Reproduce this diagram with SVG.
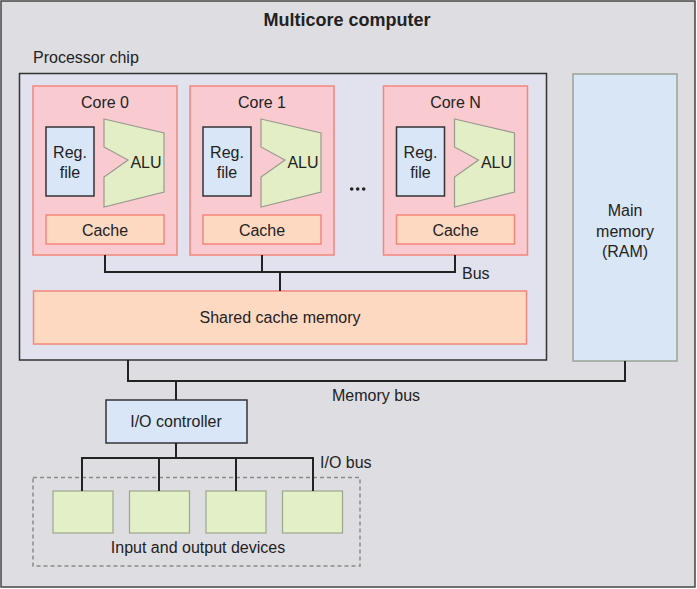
<svg xmlns="http://www.w3.org/2000/svg" width="697" height="589" viewBox="0 0 697 589">
<defs>
<style>
text{font-family:"Liberation Sans",Arial,sans-serif;font-size:16px;fill:#222;}
.title{font-weight:bold;font-size:18px;}
.mid{text-anchor:middle;}
.core{fill:#f9cbd0;stroke:#f3877b;stroke-width:1.5;}
.cache{fill:#fed9c2;stroke:#f3877b;stroke-width:1.5;}
.reg{fill:#d8e6f7;stroke:#333;stroke-width:1.5;}
.alu{fill:#e3edc6;stroke:#999a8e;stroke-width:1.2;}
.dev{fill:#e3efc6;stroke:#9da58f;stroke-width:1.2;}
.wire{fill:none;stroke:#222;stroke-width:2;}
</style>
</defs>
<rect x="1" y="1" width="694" height="586" fill="#dedde2" stroke="#444" stroke-width="1.5"/>
<text class="title mid" x="347" y="26">Multicore computer</text>

<g id="chip">
<rect x="19.5" y="73.5" width="527" height="286.5" fill="#e2e2ee" stroke="#333" stroke-width="1.5"/>
<text x="33" y="63">Processor chip</text>
</g>

<g id="core0">
<rect class="core" x="33" y="86" width="144" height="169"/>
<text class="mid" x="105" y="108">Core 0</text>
<rect class="reg" x="46" y="127" width="48" height="69"/>
<text class="mid" x="70" y="158">Reg.</text>
<text class="mid" x="70" y="178">file</text>
<polygon class="alu" points="104,119 164,133 164,192 104,207 104,177 128,160 104,147"/>
<text class="mid" x="146" y="168">ALU</text>
<rect class="cache" x="46" y="215" width="118" height="29"/>
<text class="mid" x="105" y="236">Cache</text>
</g>

<g id="core1">
<rect class="core" x="190" y="86" width="144" height="169"/>
<text class="mid" x="262" y="108">Core 1</text>
<rect class="reg" x="203" y="127" width="48" height="69"/>
<text class="mid" x="227" y="158">Reg.</text>
<text class="mid" x="227" y="178">file</text>
<polygon class="alu" points="261,119 321,133 321,192 261,207 261,177 285,160 261,147"/>
<text class="mid" x="303" y="168">ALU</text>
<rect class="cache" x="203" y="215" width="118" height="29"/>
<text class="mid" x="262" y="236">Cache</text>
</g>

<g id="dots">
<circle cx="351.7" cy="189" r="1.8" fill="#222"/>
<circle cx="357.7" cy="189" r="1.8" fill="#222"/>
<circle cx="363.7" cy="189" r="1.8" fill="#222"/>
</g>

<g id="coreN">
<rect class="core" x="383.5" y="86" width="144" height="169"/>
<text class="mid" x="455.5" y="108">Core N</text>
<rect class="reg" x="396.5" y="127" width="48" height="69"/>
<text class="mid" x="420.5" y="158">Reg.</text>
<text class="mid" x="420.5" y="178">file</text>
<polygon class="alu" points="454.5,119 514.5,133 514.5,192 454.5,207 454.5,177 478.5,160 454.5,147"/>
<text class="mid" x="496.5" y="168">ALU</text>
<rect class="cache" x="396.5" y="215" width="118" height="29"/>
<text class="mid" x="455.5" y="236">Cache</text>
</g>

<g id="shared-cache">
<rect class="cache" x="33.5" y="291" width="493" height="53"/>
<text class="mid" x="280" y="323">Shared cache memory</text>
</g>

<g id="main-memory">
<rect x="573" y="74" width="104" height="287" fill="#d9e6f5" stroke="#9aa393" stroke-width="1.5"/>
<text class="mid" x="625" y="216">Main</text>
<text class="mid" x="625" y="237">memory</text>
<text class="mid" x="625" y="257">(RAM)</text>
</g>

<g id="io-controller">
<rect class="reg" x="106" y="400" width="141" height="43"/>
<text class="mid" x="176" y="427">I/O controller</text>
</g>

<g id="devices">
<rect x="33" y="477.5" width="327" height="88.5" fill="none" stroke="#8a8a86" stroke-width="1.5" stroke-dasharray="4 3"/>
<rect class="dev" x="53" y="491" width="60" height="42"/>
<rect class="dev" x="129.5" y="491" width="60" height="42"/>
<rect class="dev" x="206" y="491" width="60" height="42"/>
<rect class="dev" x="282.5" y="491" width="60" height="42"/>
<text class="mid" x="198" y="553">Input and output devices</text>
</g>

<g id="connectors">
<path class="wire" d="M105,255 V272 H455 V255 M262,255 V272 M280,272 V291"/>
<path class="wire" d="M128,360 V381 H625 V361 M176,381 V400"/>
<path class="wire" d="M176,443 V458 M82,491 V458 H313 V491 M159,458 V491 M236,458 V491"/>
<text x="462" y="279">Bus</text>
<text x="332" y="401">Memory bus</text>
<text x="320" y="468">I/O bus</text>
</g>
</svg>
